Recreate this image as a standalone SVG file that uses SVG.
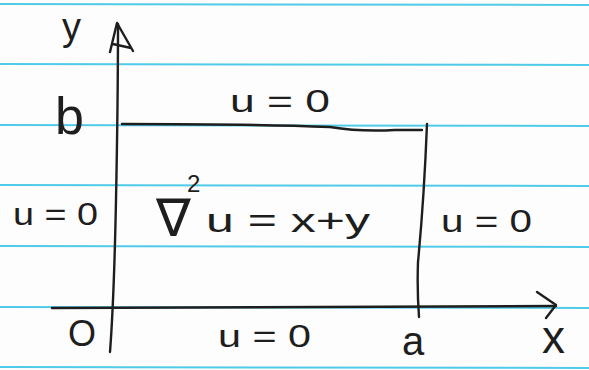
<svg xmlns="http://www.w3.org/2000/svg" width="589" height="370" viewBox="0 0 589 370">
<style>
.rule{stroke:#4fcbe9;stroke-width:2;fill:none}
.ink{stroke:#1e1e1e;stroke-width:2.4;fill:none;stroke-linecap:round;stroke-linejoin:round}
.t{font-family:"Liberation Sans",Arial,sans-serif;fill:#1e1e1e;font-size:32px}
</style>
<rect width="589" height="370" fill="#fdfdfd"/>
<g id="paper">
<line class="rule" x1="0" y1="4" x2="589" y2="5"/>
<line class="rule" x1="0" y1="64" x2="589" y2="65"/>
<line class="rule" x1="0" y1="125" x2="589" y2="126"/>
<line class="rule" x1="0" y1="185" x2="589" y2="186"/>
<line class="rule" x1="0" y1="246" x2="589" y2="247"/>
<line class="rule" x1="0" y1="307" x2="589" y2="308"/>
<line class="rule" x1="0" y1="367" x2="589" y2="368"/>
</g>
<g id="connectors">
<path id="y-axis" class="ink" d="M110,352 Q114,300 116,200 Q118,100 118,24"/>
<path id="y-arrow" class="ink" d="M110,52 L117,23 L133,51 M113,44 L131,48"/>
<path id="x-axis" class="ink" d="M52,308 Q300,306 556,306"/>
<path id="x-arrow" class="ink" d="M537,292 L556,305 L546,318"/>
<path id="top-edge" class="ink" d="M122,124 Q250,124 330,127 Q360,132 395,130 L422,130"/>
<path id="right-edge" class="ink" d="M427,124 Q424,200 418,262 Q417,290 419,317"/>
</g>
<g id="labels">
<text class="t" x="62" y="40" style="font-size:38px">y</text>
<text class="t" x="55" y="134" style="font-size:52px">b</text>
<text class="t" x="230" y="112" textLength="100" lengthAdjust="spacingAndGlyphs">u = 0</text>
<text class="t" x="13" y="225" textLength="85" lengthAdjust="spacingAndGlyphs">u = 0</text>
<g id="equation">
<text class="t" x="156" y="236" style="font-size:52px;font-family:'DejaVu Sans',sans-serif">∇</text>
<text class="t" x="187" y="192" style="font-size:24px">2</text>
<text class="t" x="206" y="232" style="font-size:34px" textLength="164" lengthAdjust="spacingAndGlyphs">u = x+y</text>
</g>
<text class="t" x="441" y="232" textLength="91" lengthAdjust="spacingAndGlyphs">u = 0</text>
<text class="t" x="68" y="346" style="font-size:36px">O</text>
<text class="t" x="218" y="347" textLength="93" lengthAdjust="spacingAndGlyphs">u = 0</text>
<text class="t" x="402" y="355" style="font-size:40px">a</text>
<text class="t" x="542" y="353" style="font-size:46px">x</text>
</g>
</svg>
